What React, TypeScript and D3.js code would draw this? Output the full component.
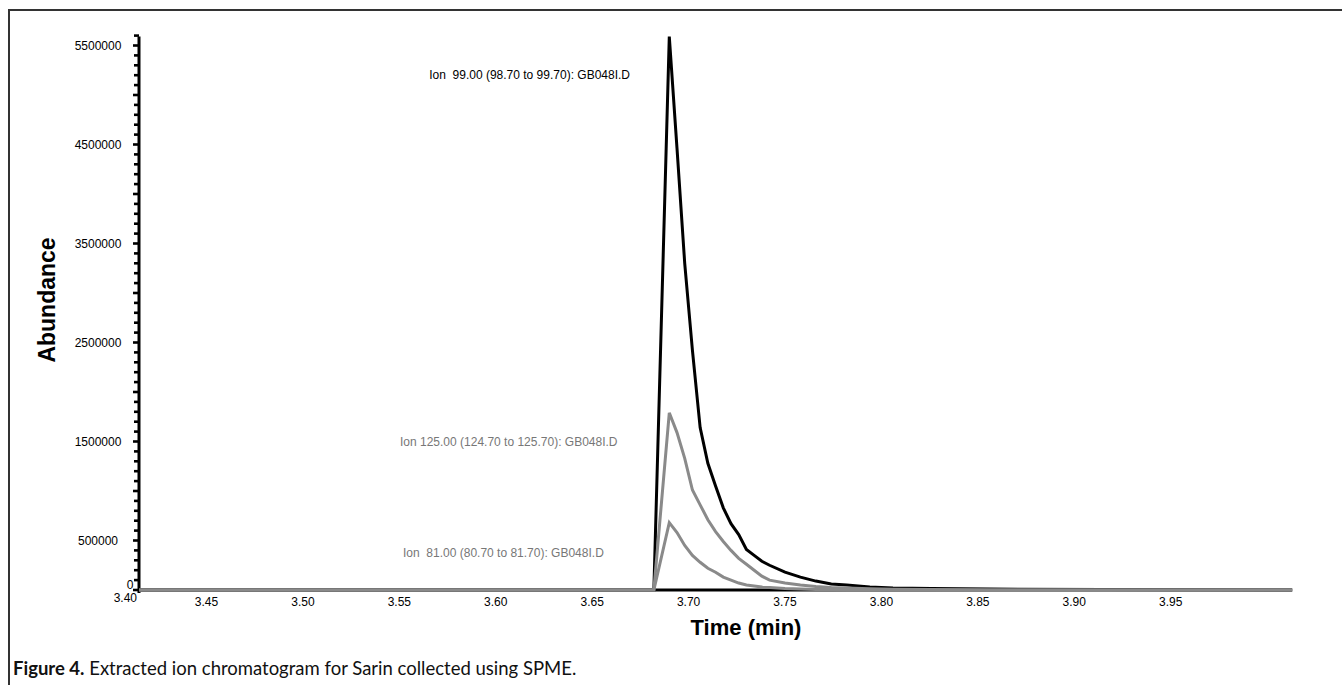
import { useMemo } from "react";
import * as d3 from "d3";

const WIDTH = 1342;
const HEIGHT = 685;

// retention time (min) of each scan
const TIMES = [
  3.4, 3.667, 3.675, 3.679, 3.683, 3.687, 3.691, 3.695, 3.699, 3.703, 3.707,
  3.711, 3.715, 3.719, 3.723, 3.727, 3.735, 3.743, 3.751, 3.759, 3.767, 3.779,
  3.791, 3.811, 3.841, 3.9, 3.998,
];

const ION_99 = [
  0, 0, 5590000, 4460000, 3300000, 2420000, 1640000, 1280000, 1050000, 830000,
  670000, 560000, 410000, 350000, 290000, 250000, 180000, 130000, 90000, 60000,
  50000, 30000, 20000, 15000, 10000, 5000, 0,
];

const ION_125 = [
  0, 0, 1790000, 1590000, 1330000, 1010000, 860000, 710000, 590000, 490000,
  400000, 320000, 260000, 200000, 140000, 100000, 70000, 50000, 35000, 25000,
  20000, 12000, 8000, 5000, 0, 0, 0,
];

const ION_81 = [
  0, 0, 680000, 580000, 450000, 350000, 280000, 220000, 180000, 130000, 100000,
  70000, 50000, 40000, 30000, 25000, 15000, 10000, 6000, 4000, 0, 0, 0, 0, 0,
  0, 0,
];

const Y_LABELS = [500000, 1500000, 2500000, 3500000, 4500000, 5500000];
const X_LABELS = [3.45, 3.5, 3.55, 3.6, 3.65, 3.7, 3.75, 3.8, 3.85, 3.9, 3.95];

const SERIES = [
  { name: "Ion  99.00 (98.70 to 99.70): GB048I.D", values: ION_99, color: "#000", labelX: 630, anchor: "end", labelY: 79 },
  { name: "Ion 125.00 (124.70 to 125.70): GB048I.D", values: ION_125, color: "#8a8a8a", labelX: 400, anchor: "start", labelY: 446 },
  { name: "Ion  81.00 (80.70 to 81.70): GB048I.D", values: ION_81, color: "#8a8a8a", labelX: 403, anchor: "start", labelY: 557 },
];

const FONT = "'Liberation Sans', Arial, sans-serif";

export default function App() {
  const x = useMemo(() => d3.scaleLinear().domain([3.4, 4.0]).range([139, 1296]), []);
  const y = useMemo(() => d3.scaleLinear().domain([0, 5500000]).range([590, 45.5]), []);

  const line = d3
    .line<number>()
    .x((_, i) => x(TIMES[i]))
    .y((d) => y(d));

  const yTicks = d3.range(0, 5600001, 100000);
  const xTicks = d3.range(41, 100).map((k) => k / 100);

  return (
    <svg
      width={WIDTH}
      height={HEIGHT}
      style={{ position: "absolute", left: 0, top: 0, background: "#fff" }}
    >
      <rect x={9} y={10} width={1345} height={690} fill="none" stroke="#333" strokeWidth={2} />

      {/* y axis */}
      <line x1={x(3.4)} x2={x(3.4)} y1={y(5590000)} y2={593} stroke="#000" strokeWidth={3} />
      {yTicks.map((t) => (
        <line
          key={t}
          x1={t % 500000 === 0 ? 133 : 134}
          x2={139}
          y1={y(t)}
          y2={y(t)}
          stroke="#000"
          strokeWidth={2.6}
        />
      ))}
      {Y_LABELS.map((t) => (
        <text key={t} x={98} y={y(t) + 4} textAnchor="middle" fontFamily={FONT} fontSize={12} fill="#000">
          {t}
        </text>
      ))}
      <text x={130} y={589} textAnchor="middle" fontFamily={FONT} fontSize={12}>0</text>

      {/* x axis */}
      <line x1={x(3.4)} x2={x(3.998)} y1={y(0)} y2={y(0)} stroke="#000" strokeWidth={3} />
      {xTicks.map((t) => {
        const major = Math.round(t * 100) % 5 === 0;
        return (
          <line
            key={t}
            x1={x(t)}
            x2={x(t)}
            y1={590}
            y2={major ? 598 : 594}
            stroke="#000"
            strokeWidth={3}
          />
        );
      })}
      {X_LABELS.map((t) => (
        <text key={t} x={x(t - 0.015)} y={606} textAnchor="middle" fontFamily={FONT} fontSize={12}>
          {t.toFixed(2)}
        </text>
      ))}
      <text x={137} y={602} textAnchor="end" fontFamily={FONT} fontSize={12}>3.40</text>

      {/* traces */}
      {SERIES.map((s) => (
        <path
          key={s.name}
          d={line(s.values) ?? ""}
          fill="none"
          stroke={s.color}
          strokeWidth={3}
          strokeLinejoin="miter"
        />
      ))}
      {SERIES.map((s) => (
        <text
          key={s.name + "label"}
          x={s.labelX}
          y={s.labelY}
          textAnchor={s.anchor as "start" | "end"}
          fontFamily={FONT}
          fontSize={12}
          fill={s.color === "#000" ? "#000" : "#777"}
          style={{ whiteSpace: "pre" }}
        >
          {s.name}
        </text>
      ))}

      {/* axis titles */}
      <text
        transform="translate(55,300) rotate(-90)"
        textAnchor="middle"
        fontFamily={FONT}
        fontWeight="bold"
        fontSize={23}
      >
        Abundance
      </text>
      <text x={746} y={635} textAnchor="middle" fontFamily={FONT} fontWeight="bold" fontSize={22}>
        Time (min)
      </text>

      {/* caption */}
      <text x={13} y={675} fontFamily="Lato, sans-serif" fontSize={18.5} fill="#111">
        <tspan fontWeight="bold">Figure 4.</tspan>
        <tspan> Extracted ion chromatogram for Sarin collected using SPME.</tspan>
      </text>
    </svg>
  );
}
